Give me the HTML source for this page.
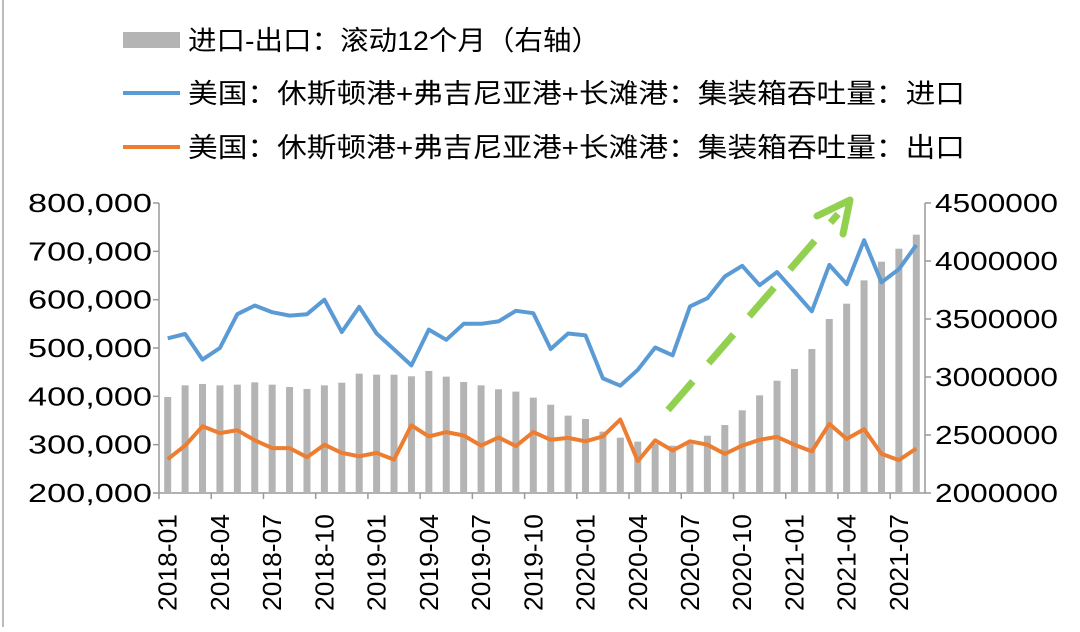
<!DOCTYPE html>
<html><head><meta charset="utf-8"><style>
html,body{margin:0;padding:0;background:#fff;}
body{width:1080px;height:627px;overflow:hidden;position:relative;font-family:"Liberation Sans","Noto Sans CJK SC",sans-serif;}
svg text{font-family:"Liberation Sans","Noto Sans CJK SC",sans-serif;}
</style></head><body>
<svg id="chart" width="1080" height="627" viewBox="0 0 1080 627" xmlns="http://www.w3.org/2000/svg">
<line x1="3" y1="0" x2="3" y2="627" stroke="#bbb" stroke-width="2"/>
<g>
 <g>
  <rect x="123" y="32" width="57" height="16" fill="#b4b4b4"/>
  <text x="188" y="50" font-size="27" fill="#000" textLength="412" lengthAdjust="spacingAndGlyphs">进口-出口：滚动12个月（右轴）</text>
 </g>
 <g>
  <line x1="123" y1="93" x2="180" y2="93" stroke="#5b9bd5" stroke-width="4"/>
  <text x="188" y="103" font-size="27" fill="#000" textLength="777" lengthAdjust="spacingAndGlyphs">美国：休斯顿港+弗吉尼亚港+长滩港：集装箱吞吐量：进口</text>
 </g>
 <g>
  <line x1="123" y1="147" x2="180" y2="147" stroke="#ed7d31" stroke-width="4"/>
  <text x="188" y="157" font-size="27" fill="#000" textLength="777" lengthAdjust="spacingAndGlyphs">美国：休斯顿港+弗吉尼亚港+长滩港：集装箱吞吐量：出口</text>
 </g>
</g>
<g id="axes"></g>
<g id="bars"></g>
<g id="lines"></g>
<g>
 <line x1="668" y1="410" x2="838" y2="214" stroke="#92d050" stroke-width="7" stroke-dasharray="38,24"/>
 <polyline points="817,216 850,200 843,234" fill="none" stroke="#92d050" stroke-width="7" stroke-linecap="round" stroke-linejoin="round"/>
</g>
</svg>
<script>
const months = ["2018-01","2018-02","2018-03","2018-04","2018-05","2018-06","2018-07","2018-08","2018-09","2018-10","2018-11","2018-12","2019-01","2019-02","2019-03","2019-04","2019-05","2019-06","2019-07","2019-08","2019-09","2019-10","2019-11","2019-12","2020-01","2020-02","2020-03","2020-04","2020-05","2020-06","2020-07","2020-08","2020-09","2020-10","2020-11","2020-12","2021-01","2021-02","2021-03","2021-04","2021-05","2021-06","2021-07","2021-08"];
const importVals = [520000,529000,476000,500000,570000,588000,574000,567000,570000,600000,533000,585000,530000,497000,464000,538000,517000,550000,550000,555000,577000,572000,498000,530000,526000,437000,422000,455000,501000,485000,586000,603000,648000,670000,630000,657000,617000,576000,672000,632000,723000,636000,663000,713000];
const exportVals = [270000,298000,338000,324000,330000,309000,293000,293000,274000,300000,283000,276000,283000,269000,340000,317000,326000,319000,298000,315000,297000,326000,310000,314000,307000,317000,352000,266000,309000,288000,307000,300000,281000,298000,310000,316000,300000,286000,343000,312000,332000,281000,268000,292000];
const balanceVals = [2828000,2928000,2940000,2928000,2934000,2954000,2934000,2914000,2897000,2928000,2951000,3029000,3020000,3020000,3006000,3052000,3003000,2957000,2928000,2894000,2874000,2822000,2761000,2667000,2638000,2529000,2477000,2443000,2425000,2408000,2425000,2494000,2586000,2713000,2842000,2968000,3069000,3241000,3500000,3632000,3833000,3994000,4106000,4227000];
const leftTicks = [200000,300000,400000,500000,600000,700000,800000];
const rightTicks = [2000000,2500000,3000000,3500000,4000000,4500000];

const NS="http://www.w3.org/2000/svg";
const X0=159, X1=925, Y0=493, Y1=203;
const bw=(X1-X0)/months.length;
function xC(i){return X0+bw*(i+0.5);}
function yL(v){return Y0-(v-200000)/600000*(Y0-Y1);}
function yR(v){return Y0-(v-2000000)/2500000*(Y0-Y1);}
function mk(tag,attrs,parent){const e=document.createElementNS(NS,tag);for(const k in attrs)e.setAttribute(k,attrs[k]);parent.appendChild(e);return e;}
const axes=document.getElementById('axes'), bars=document.getElementById('bars'), lines=document.getElementById('lines');

let e=mk('line',{x1:X0,y1:Y1,x2:X0,y2:Y0,stroke:'#999','stroke-width':1.5},axes);


e=mk('line',{x1:X1,y1:Y1,x2:X1,y2:Y0,stroke:'#999','stroke-width':1.5},axes);


e=mk('line',{x1:X0,y1:Y0,x2:X1,y2:Y0,stroke:'#999','stroke-width':1.5},axes);



leftTicks.forEach(v=>{
  const y=yL(v);
  const t=mk('line',{x1:X0-6,y1:y,x2:X0,y2:y,stroke:'#999','stroke-width':1.5},axes);
  
  
  const tx=mk('text',{x:152,y:y+9,'font-size':26,'text-anchor':'end',fill:'#000',textLength:124,lengthAdjust:'spacingAndGlyphs'},axes);
  tx.textContent=v.toLocaleString('en-US');
  
  
});
rightTicks.forEach(v=>{
  const y=yR(v);
  const t=mk('line',{x1:X1,y1:y,x2:X1+6,y2:y,stroke:'#999','stroke-width':1.5},axes);
  
  
  const tx=mk('text',{x:935,y:y+9,'font-size':26,fill:'#000',textLength:123,lengthAdjust:'spacingAndGlyphs'},axes);
  tx.textContent=String(v);
  
  
});
months.forEach((m,i)=>{
  if(i%3===0){
    const xt=X0+bw*i;
    const t=mk('line',{x1:xt,y1:Y0,x2:xt,y2:Y0+6,stroke:'#999','stroke-width':1.5},axes);
    
    
    const x=xC(i)+9;
    const tx=mk('text',{x:x,y:611,'font-size':26,fill:'#000',transform:`rotate(-90 ${x} 611)`,textLength:97,lengthAdjust:'spacingAndGlyphs'},axes);
    tx.textContent=m;
    
    
  }
});
balanceVals.forEach((v,i)=>{
  const y=yR(v);
  const r=mk('rect',{x:xC(i)-3.5,y:y,width:7,height:Y0-y,fill:'#b4b4b4'},bars);
  
  
});
function drawLine(vals,color,name){
  const pts=vals.map((v,i)=>xC(i).toFixed(1)+','+yL(v).toFixed(1)).join(' ');
  const p=mk('polyline',{points:pts,fill:'none',stroke:color,'stroke-width':4,'stroke-linejoin':'round'},lines);
  
  
}
drawLine(importVals,'#5b9bd5','import-line');
drawLine(exportVals,'#ed7d31','export-line');
</script>
</body></html>
